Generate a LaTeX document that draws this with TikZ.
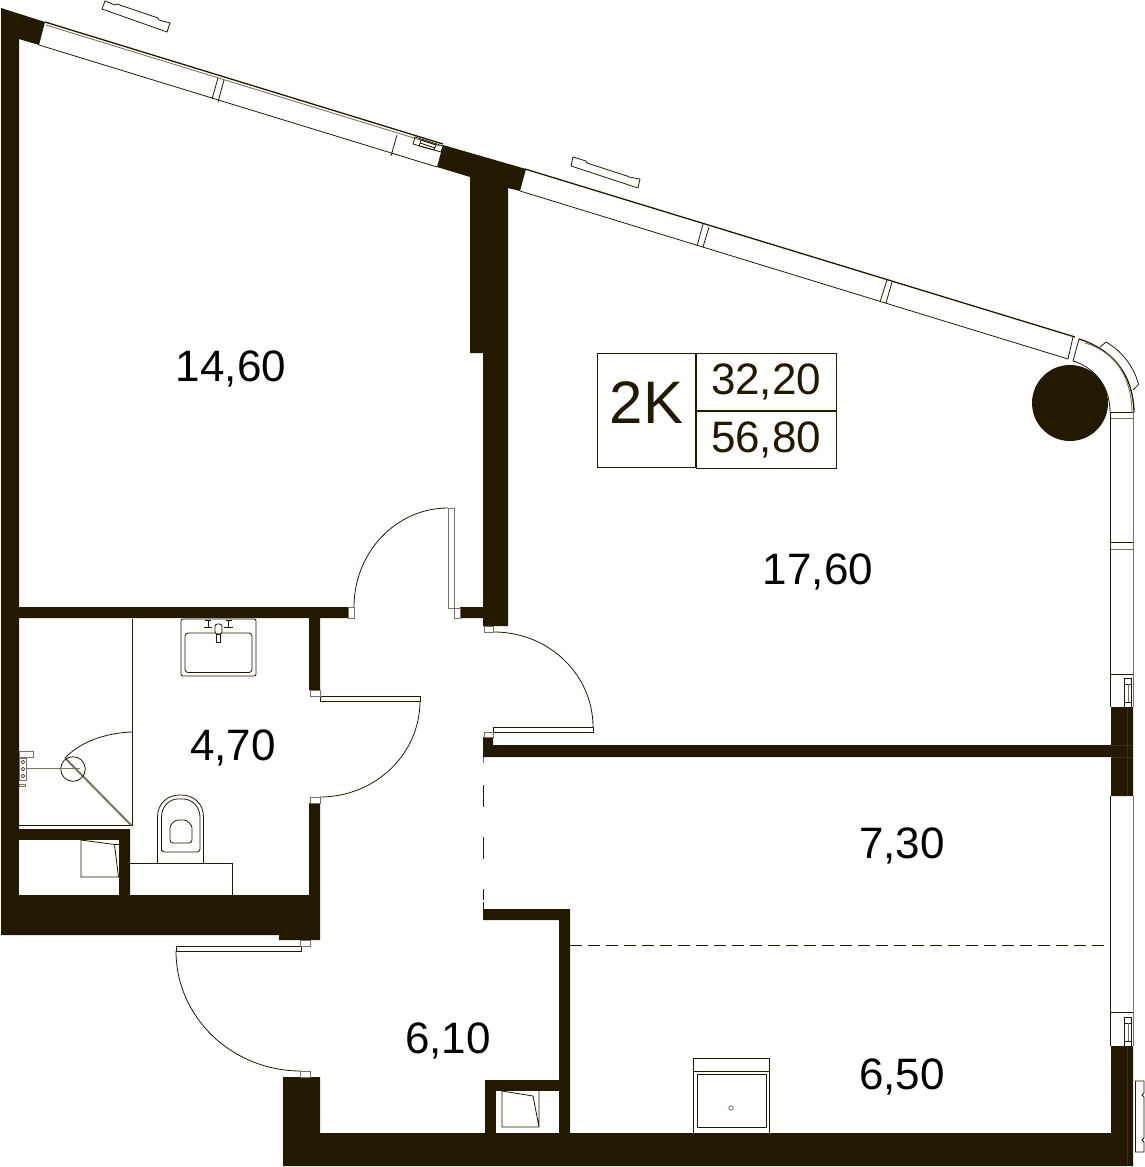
\documentclass[tikz,border=0pt]{standalone}
\usepackage{fontspec}
\setmainfont{Liberation Sans}
\usepackage{xcolor}
\usetikzlibrary{positioning}
\definecolor{wallbrown}{HTML}{231800}
\definecolor{framegrey}{HTML}{7A7362}
\definecolor{seambrown}{HTML}{3A2F18}

\begin{document}
\begin{tikzpicture}[x=1pt,y=-1pt,
            wall/.style={fill=wallbrown,draw=none},
            seam/.style={draw=seambrown,line width=0.5pt},
            fine/.style={draw=wallbrown,line width=0.8pt},
            frame/.style={draw=framegrey,line width=0.9pt},
            glass/.style={draw=wallbrown,line width=1.3pt},
            area/.style={font=\fontsize{44}{44}\selectfont,text=black,inner sep=0pt,text height=33pt,text depth=7pt},
            cell/.style={rectangle,draw=wallbrown,line width=0.7pt,inner sep=0pt,text=wallbrown,font=\fontsize{44}{44}\selectfont,text height=33pt,text depth=7pt}]

            \useasboundingbox (0,0) rectangle (1145,1167);

            \fill[wall] (1,8) -- (45,22) -- (39,45) -- (19,39) -- (19,607) -- (348,607) -- (348,618) -- (320,618) -- (320,690) -- (309,690) -- (309,618) -- (19,618) -- (19,829) -- (130,829) -- (130,895) -- (309,895) -- (309,803) -- (320,803) -- (320,940) -- (279,940) -- (279,935) -- (1,935) -- cycle;
            \fill[white] (19,840) rectangle (119,895);
            \fill[wall] (443,145) -- (526,169) -- (520,191) -- (508,188) -- (508,626) -- (483,626) -- (483,618) -- (460,618) -- (460,607) -- (483,607) -- (483,353) -- (470,353) -- (470,177) -- (437,167) -- cycle;
            \fill[wall] (483,737) -- (493,737) -- (493,745) -- (1111,745) -- (1111,707) -- (1133,707) -- (1133,796) -- (1111,796) -- (1111,757) -- (483,757) -- cycle;
            \fill[wall] (483,909) -- (570,909) -- (570,1133) -- (1111,1133) -- (1111,1046) -- (1133,1046) -- (1133,1166) -- (283,1166) -- (283,1077) -- (320,1077) -- (320,1133) -- (485,1133) -- (485,1080) -- (559,1080) -- (559,920) -- (483,920) -- cycle;
            \fill[white] (496,1091) rectangle (559,1133);
            \fill[wall] (1070,403) circle[radius=38pt];

            \draw[seam] (1127,707) -- (1127,796) (1127,1046) -- (1127,1166) (1111,745) -- (1133,745) (1111,757) -- (1133,757);

            % sloped window
            \draw[glass] (45,22) -- (443,144) (525,169) -- (1075,337);
            \draw[frame] (46,25) -- (440,146);
            \draw[fine] (39,45) -- (437,167) (520,191) -- (1068,359);
            \draw[fine] (212,99) -- (218,78) (218,102) -- (224,80);
            \draw[fine] (391,156) -- (397,135);
            \draw[fine] (697,246) -- (703,224) (703,247) -- (709,227);
            \draw[fine] (880,302) -- (887,280) (886,303) -- (892,282);
            \draw[fine] (1068,359) -- (1073,337) (1073,361) -- (1079,339);
            \draw[fine] (413,144) -- (415,137) -- (443,146) -- (441,152) -- cycle;
            \draw[fine] (419,146) -- (421,140) -- (436,145) -- (434,150) -- cycle (420,143) -- (435,148);

            \draw[fine] (102,9) -- (105,1) -- (115,5) -- (117,4) -- (158,18) -- (159,20) -- (170,23) -- (167,32) -- cycle;
            \draw[fine] (571,166) -- (573,157) -- (586,161) -- (587,163) -- (627,176) -- (629,177) -- (640,179) -- (638,188) -- cycle;

            % corner
            \draw[glass] (1079,339) .. controls (1108,348) and (1133,370) .. (1134,412);
            \draw[frame] (1085,343) .. controls (1112,351) and (1131,372) .. (1132,412);
            \draw[fine] (1073,361) .. controls (1090,366) and (1110,382) .. (1110,412);
            \draw[fine] (1100,347) -- (1106,342) arc[start angle=60,end angle=15,radius=70pt] -- (1133,390);

            % right window
            \draw[fine] (1110.5,412) -- (1110.5,707) (1110.5,796) -- (1110.5,1046);
            \draw[frame] (1133,412) -- (1133,707) (1133,796) -- (1133,1046);
            \draw[fine] (1110.5,412) -- (1133,412) (1110.5,542) -- (1133,542) (1110.5,1012) -- (1133,1012) (1110.5,674) -- (1133,674);
            \draw[frame] (1110.5,418) -- (1133,418) (1110.5,549) -- (1133,549);
            \draw[fine] (1124.5,678.5) rectangle (1131,707) (1124.5,684) -- (1131,684) (1124.5,702) -- (1131,702);
            \draw[frame] (1128,684) -- (1128,702);
            \draw[fine] (1124.5,1017.5) rectangle (1131,1046) (1124.5,1023) -- (1131,1023) (1124.5,1041) -- (1131,1041);
            \draw[frame] (1128,1023) -- (1128,1041);
            \draw[fine] (1135.5,1081) -- (1144,1081) -- (1144,1093) -- (1142,1095) -- (1144,1097) -- (1144,1138) -- (1142,1140) -- (1144,1142) -- (1144,1152) -- (1135.5,1152) -- cycle;

            % doors
            \draw[fine] (354,607) arc[start angle=180,end angle=90,x radius=94pt,y radius=99pt];
            \draw[frame] (448,508) rectangle (454.5,608);
            \draw[frame] (348,607) rectangle (354,618) (454.5,608) rectangle (460,618);
            \draw[fine] (494,632) arc[start angle=90,end angle=0,x radius=99pt,y radius=95pt];
            \draw[fine] (493,727.5) rectangle (593,732.5);
            \draw[frame] (484,626) rectangle (493.5,632) (484,732) rectangle (493.5,737);
            \draw[fine] (420,701) arc[start angle=0,end angle=-90,x radius=100pt,y radius=96pt];
            \draw[fine] (320,696) rectangle (420.5,701);
            \draw[frame] (310.5,690) rectangle (320,696) (310.5,797) rectangle (320,803);
            \draw[fine] (176,951) arc[start angle=180,end angle=270,x radius=125pt,y radius=120pt];
            \draw[fine] (176,946) rectangle (301,951);
            \draw[frame] (300.5,940) rectangle (310,946) (300.5,1071) rectangle (310,1077);

            % partitions
            \draw[frame] (483,757) -- (483,763);
            \draw[fine,line width=0.5pt,dash pattern=on 22pt off 30pt] (483,785) -- (483,900);
            \draw[fine] (483,902) -- (483,909);
            \draw[fine,line width=0.5pt,dash pattern=on 12pt off 6pt] (570,945) -- (1111,945);

            % shower
            \draw[fine] (132,619) -- (132,826) (19,825.5) -- (132,825.5);
            \draw[fine] (132,732) .. controls (105,733) and (80,742) .. (65,758);
            \draw[draw=framegrey,line width=2pt] (65,758) -- (131,825);
            \draw[fine] (73,769) circle[radius=12.3pt];
            \draw[frame,line width=1.8pt] (27,768.5) -- (80,768.5);
            \draw[frame] (19,751.5) rectangle (33,757.5) (19,758) rectangle (26,780) (19,784) rectangle (25,786.5);
            \draw[fine,line width=0.5pt] (23,762) circle[radius=1.8pt] (23,769) circle[radius=1.8pt] (23,776) circle[radius=1.8pt];

            % sink
            \draw[fine,rounded corners=2pt] (181,619) rectangle (256,676);
            \draw[fine,rounded corners=3pt] (185,633) rectangle (252,672.5);
            \draw[fine,fill=white,rounded corners=2.5pt] (215,624) rectangle (222,634);
            \draw[fine,fill=white] (216.5,634) rectangle (220.5,642);
            \draw[fine] (204,627) -- (212,627) (224,627) -- (233,627) (208,620) -- (208,627) (228.5,620) -- (228.5,627) (205,620) -- (211,620) (226,620) -- (232,620);

            % toilet
            \draw[fine,rounded corners=1pt] (157.5,863.5) -- (157.5,818) .. controls (157.5,803) and (168,795) .. (180.5,795) .. controls (193,795) and (203.5,803) .. (203.5,818) -- (203.5,863.5);
            \draw[fine,rounded corners=3pt] (161.5,848) -- (161.5,820) .. controls (161.5,806) and (170,799) .. (180.5,799) .. controls (191,799) and (200,806) .. (200,820) -- (200,852) -- (161.5,852) -- cycle;
            \draw[fine,rounded corners=3pt] (170,843) -- (170,831) .. controls (170,824) and (175,820) .. (181,820) .. controls (187,820) and (192,824) .. (192,831) -- (192,843) -- cycle;
            \draw[fine] (130,863.5) -- (232.5,863.5) -- (232.5,895);

            % shafts
            \draw[fine] (119,844.5) -- (114.5,844.5) -- (81,840) -- (81,877) -- (119,877) (114.5,844.5) -- (118.5,877);
            \draw[fine] (502,1091) -- (502,1127) -- (539,1127) -- (539,1091) (502,1091) -- (533,1096) -- (539,1127);

            % washing machine
            \draw[fine] (693,1133) -- (693,1058) -- (769,1058) -- (769,1133) (693,1071) -- (769,1071);
            \draw[fine] (697,1074.5) rectangle (766,1127);
            \draw[frame] (731,1108) circle[radius=2.2pt];

            \node (bedroom) [area] at (231,368) {14,60};
            \node (living) [area] at (818,571) {17,60};
            \node (bath) [area] at (233,747) {4,70};
            \node (kitchen) [area] at (902,845) {7,30};
            \node (dining) [area] at (902,1076) {6,50};
            \node (hall) [area] at (448,1040) {6,10};

            \node (rooms) [cell, minimum width=98pt, minimum height=114pt, anchor=north west, font=\fontsize{60}{60}\selectfont] at (597,353) {2K};
            \node (livingarea) [cell, minimum width=140pt, minimum height=57pt, anchor=north west] at (rooms.north east) {32,20};
            \node (totalarea) [cell, minimum width=140pt, minimum height=57pt, below=0pt of livingarea] {56,80};
         \end{tikzpicture}
\end{document}
